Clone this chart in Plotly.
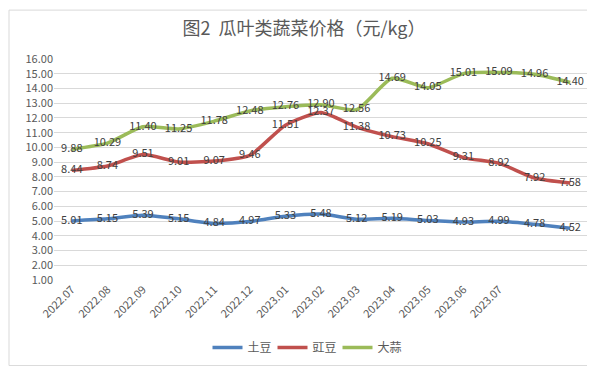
import plotly.graph_objects as go

months = ["2022.07", "2022.08", "2022.09", "2022.10", "2022.11", "2022.12",
          "2023.01", "2023.02", "2023.03", "2023.04", "2023.05", "2023.06", "2023.07", "", ""]
potato = [5.01, 5.15, 5.39, 5.15, 4.84, 4.97, 5.33, 5.48, 5.12, 5.19, 5.03, 4.93, 4.99, 4.78, 4.52]
cowpea = [8.44, 8.74, 9.51, 9.01, 9.07, 9.46, 11.51, 12.37, 11.38, 10.73, 10.25, 9.31, 8.92, 7.92, 7.58]
garlic = [9.88, 10.29, 11.40, 11.25, 11.78, 12.48, 12.76, 12.90, 12.56, 14.69, 14.05, 15.01, 15.09, 14.96, 14.40]
names = ["土豆", "豇豆", "大蒜"]
colors = ["#4F81BD", "#C0504D", "#9BBB59"]

W, H = 595, 366
L, R, T, B = 46, 15, 51, 89
PW, PH = W - L - R, H - T - B
FONT = "Noto Sans CJK SC, Liberation Sans, sans-serif"

x = list(range(len(months)))
fig = go.Figure()
for name, vals, col in zip(names, [potato, cowpea, garlic], colors):
    fig.add_trace(go.Scatter(
        x=x, y=vals, name=name, mode="lines+text",
        line=dict(color=col, width=3.5, shape="spline", smoothing=0.6),
        text=[f"{v:.2f}" for v in vals], textposition="middle center",
        textfont=dict(size=11, color="#404040", family=FONT),
        cliponaxis=False,
    ))

fig.update_layout(
    width=W, height=H,
    margin=dict(l=L, r=R, t=T, b=B),
    paper_bgcolor="white", plot_bgcolor="white",
    font=dict(family=FONT, color="#595959", size=11),
    title=dict(text="图2  瓜叶类蔬菜价格（元/kg）", x=296 / W, xanchor="center",
               y=1 - 21 / H, yanchor="middle", xref="container",
               font=dict(size=18, color="#595959", family=FONT)),
    xaxis=dict(
        range=[-0.5, len(months) - 0.5],
        tickvals=x[:13], ticktext=months[:13],
        tickangle=-45, showgrid=False, zeroline=False, showline=False,
        tickfont=dict(size=11, color="#595959"), ticks="",
    ),
    yaxis=dict(
        range=[1, 16], dtick=1, tick0=1, tickformat=".2f",
        showgrid=True, gridcolor="#D9D9D9", gridwidth=1,
        zeroline=False, showline=False, ticks="",
        tickfont=dict(size=11, color="#595959"),
    ),
    legend=dict(orientation="h", x=(297 - L) / PW, xanchor="center",
                y=-(346 - (H - B)) / PH, yanchor="middle",
                font=dict(size=12, color="#595959"), entrywidth=20, entrywidthmode="pixels"),
    shapes=[dict(type="rect", xref="paper", yref="paper",
                 x0=-(L - 1) / PW, x1=1 + (R - 5) / PW,
                 y0=-(B - 1.5) / PH, y1=1 + (T - 1) / PH,
                 line=dict(color="#D9D9D9", width=1), layer="below")],
)
fig.write_html("out.html")
